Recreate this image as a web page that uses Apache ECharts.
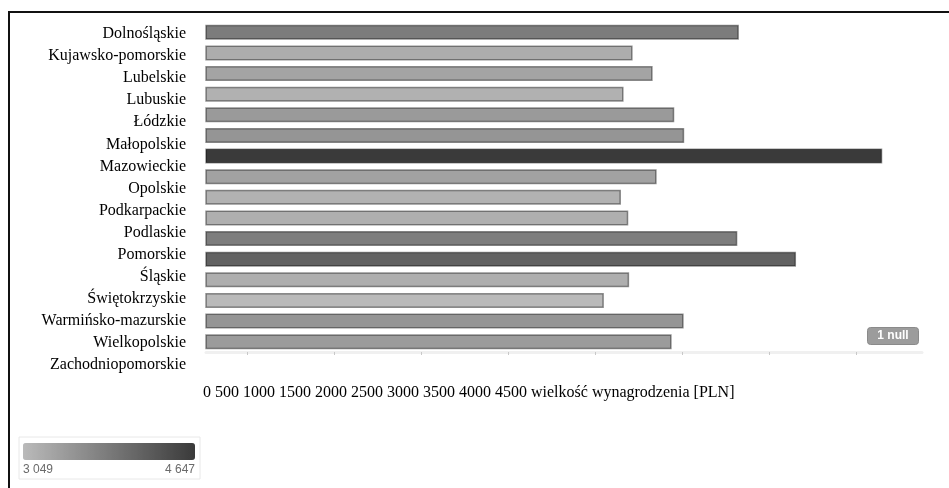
<!DOCTYPE html>
<html>
<head>
<meta charset="utf-8">
<script src="https://cdn.jsdelivr.net/npm/echarts@6/dist/echarts.min.js"></script>
<style>
  html, body { margin: 0; padding: 0; background: #fff; }
  #chart { width: 949px; height: 488px; }
</style>
</head>
<body>
<div id="chart"></div>
<script>
// Average gross salary by voivodeship [PLN]
const regions = [
  'Dolnośląskie', 'Kujawsko-pomorskie', 'Lubelskie', 'Lubuskie', 'Łódzkie',
  'Małopolskie', 'Mazowieckie', 'Opolskie', 'Podkarpackie', 'Podlaskie',
  'Pomorskie', 'Śląskie', 'Świętokrzyskie', 'Warmińsko-mazurskie',
  'Wielkopolskie', 'Zachodniopomorskie'
];
const salaries = [
  3824, 3214, 3329, 3162, 3453,
  3510, 4647, 3352, 3147, 3189,
  3815, 4152, 3194, 3049,
  3507, 3438
];
const xTickValues = [1000, 1500, 2000, 2500, 3000, 3500, 4000, 4500];
const xTickLabels = ['0', '500', '1000', '1500', '2000', '2500', '3000', '3500', '4000', '4500'];
const xAxisTitle = 'wielkość wynagrodzenia [PLN]';
const nullBadge = '1 null';

const minVal = Math.min(...salaries);
const maxVal = Math.max(...salaries);
const fmt = n => String(n).replace(/\B(?=(\d{3})+(?!\d))/g, ' ');

const chart = echarts.init(document.getElementById('chart'), null, { renderer: 'canvas' });

chart.setOption({
  animation: false,
  backgroundColor: '#ffffff',
  grid: [
    { left: 206, top: 22, width: 716, height: 330 },
    { left: 206, top: 23, width: 716, height: 353 }
  ],
  xAxis: [
    {
      type: 'value', gridIndex: 0, min: 765, max: 4875,
      axisLine: { show: true, lineStyle: { color: '#f0f0f0', width: 3 } },
      axisTick: { show: true, customValues: xTickValues, length: 3, lineStyle: { color: '#c8c8c8' } },
      axisLabel: { show: false },
      splitLine: { show: false }
    },
    { type: 'value', gridIndex: 1, show: false }
  ],
  yAxis: [
    {
      type: 'category', gridIndex: 0, data: regions, inverse: true,
      axisLine: { show: false }, axisTick: { show: false },
      axisLabel: { show: false }, splitLine: { show: false }
    },
    {
      type: 'category', gridIndex: 1, data: regions, inverse: true,
      axisLine: { show: false }, axisTick: { show: false },
      axisLabel: {
        show: true, margin: 20, color: '#000',
        fontFamily: 'Liberation Serif', fontSize: 16
      }
    }
  ],
  visualMap: {
    type: 'continuous',
    min: minVal, max: maxVal,
    seriesIndex: 0,
    dimension: 0,
    orient: 'horizontal',
    left: 23, top: 443,
    itemWidth: 17, itemHeight: 172,
    calculable: false,
    showLabel: false,
    padding: 0,
    inRange: { color: ['#bababa', '#3a3a3a'] }
  },
  series: [{
    type: 'bar',
    xAxisIndex: 0, yAxisIndex: 0,
    data: salaries,
    barWidth: 15,
    itemStyle: { borderColor: 'rgba(0,0,0,0.42)', borderWidth: 1.5 },
    silent: true
  }],
  graphic: [
    // page frame
    {
      type: 'polyline', silent: true,
      shape: { points: [[9, 500], [9, 12], [960, 12]] },
      style: { stroke: '#111', lineWidth: 2, fill: null }
    },
    // value axis captions in one line
    {
      type: 'text', left: 203, top: 385, silent: true,
      style: {
        text: xTickLabels.join(' ') + ' ' + xAxisTitle,
        fontFamily: 'Liberation Serif', fontSize: 16, fill: '#000'
      }
    },
    // colour scale frame and its range labels
    {
      type: 'rect', silent: true, z: -1,
      shape: { x: 19, y: 437, width: 181, height: 42 },
      style: { fill: '#fff', stroke: '#e8e8e8', lineWidth: 1 }
    },
    {
      type: 'text', left: 23, top: 464, silent: true,
      style: { text: fmt(minVal), fontFamily: 'Liberation Sans', fontSize: 12, fill: '#6a6a6a' }
    },
    {
      type: 'text', right: 949 - 195, top: 464, silent: true,
      style: { text: fmt(maxVal), fontFamily: 'Liberation Sans', fontSize: 12, fill: '#6a6a6a', align: 'right' }
    },
    // missing-value badge
    {
      type: 'group', left: 867, top: 327, silent: true,
      children: [
        {
          type: 'rect', shape: { x: 0, y: 0, width: 51, height: 17, r: 3 },
          style: { fill: '#9c9c9c', stroke: '#8a8a8a', lineWidth: 1 }
        },
        {
          type: 'text', x: 25.5, y: 8.5,
          style: {
            text: nullBadge, fill: '#fff', fontFamily: 'Liberation Sans',
            fontSize: 12, fontWeight: 'bold', align: 'center', verticalAlign: 'middle'
          }
        }
      ]
    }
  ]
});
</script>
</body>
</html>
